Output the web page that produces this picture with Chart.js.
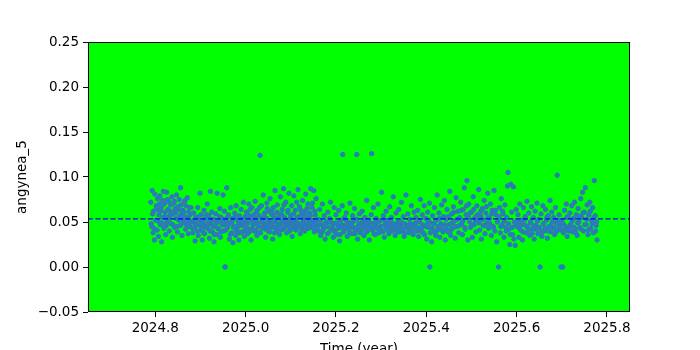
<!DOCTYPE html>
<html>
<head>
<meta charset="utf-8">
<script src="https://cdn.jsdelivr.net/npm/chart.js@4/dist/chart.umd.min.js"></script>
<style>
  body { margin: 0; background: #fff; overflow: hidden; }
  #wrap { width: 700px; height: 350px; }
</style>
</head>
<body>
<div id="wrap"><canvas id="chart"></canvas></div>
<script>
// observation times (decimal year)
const times = [
  2024.790, 2024.792, 2024.793, 2024.795, 2024.796, 2024.798, 2024.799, 2024.801, 2024.802, 2024.804,
  2024.805, 2024.807, 2024.808, 2024.810, 2024.811, 2024.813, 2024.814, 2024.816, 2024.817, 2024.819,
  2024.820, 2024.822, 2024.823, 2024.825, 2024.826, 2024.828, 2024.829, 2024.831, 2024.832, 2024.834,
  2024.835, 2024.837, 2024.838, 2024.840, 2024.841, 2024.843, 2024.844, 2024.846, 2024.847, 2024.849,
  2024.850, 2024.852, 2024.853, 2024.855, 2024.856, 2024.858, 2024.859, 2024.861, 2024.862, 2024.864,
  2024.865, 2024.867, 2024.868, 2024.870, 2024.871, 2024.873, 2024.874, 2024.876, 2024.877, 2024.879,
  2024.881, 2024.883, 2024.885, 2024.887, 2024.888, 2024.890, 2024.892, 2024.894, 2024.895, 2024.897,
  2024.899, 2024.901, 2024.902, 2024.904, 2024.906, 2024.908, 2024.909, 2024.911, 2024.913, 2024.915,
  2024.916, 2024.918, 2024.920, 2024.922, 2024.923, 2024.925, 2024.927, 2024.929, 2024.930, 2024.932,
  2024.934, 2024.936, 2024.937, 2024.939, 2024.941, 2024.943, 2024.944, 2024.946, 2024.948, 2024.950,
  2024.951, 2024.953, 2024.954, 2024.955, 2024.957, 2024.958, 2024.960, 2024.962, 2024.964, 2024.965,
  2024.967, 2024.969, 2024.971, 2024.972, 2024.974, 2024.976, 2024.978, 2024.979, 2024.981, 2024.983,
  2024.985, 2024.986, 2024.988, 2024.990, 2024.992, 2024.993, 2024.995, 2024.997, 2024.999, 2025.000,
  2025.002, 2025.004, 2025.005, 2025.007, 2025.009, 2025.011, 2025.012, 2025.014, 2025.016, 2025.018,
  2025.019, 2025.021, 2025.023, 2025.025, 2025.026, 2025.028, 2025.030, 2025.032, 2025.033, 2025.035,
  2025.037, 2025.039, 2025.040, 2025.042, 2025.044, 2025.046, 2025.047, 2025.049, 2025.051, 2025.053,
  2025.054, 2025.056, 2025.058, 2025.060, 2025.061, 2025.063, 2025.065, 2025.067, 2025.068, 2025.070,
  2025.072, 2025.074, 2025.075, 2025.077, 2025.079, 2025.081, 2025.082, 2025.084, 2025.086, 2025.088,
  2025.089, 2025.091, 2025.093, 2025.095, 2025.096, 2025.098, 2025.100, 2025.102, 2025.103, 2025.105,
  2025.107, 2025.109, 2025.110, 2025.112, 2025.114, 2025.116, 2025.117, 2025.119, 2025.121, 2025.123,
  2025.124, 2025.126, 2025.128, 2025.130, 2025.131, 2025.133, 2025.135, 2025.137, 2025.138, 2025.140,
  2025.142, 2025.144, 2025.145, 2025.147, 2025.149, 2025.151, 2025.152, 2025.154, 2025.156, 2025.158,
  2025.160, 2025.162, 2025.164, 2025.166, 2025.168, 2025.170, 2025.172, 2025.174, 2025.176, 2025.178,
  2025.180, 2025.182, 2025.184, 2025.186, 2025.188, 2025.190, 2025.192, 2025.194, 2025.196, 2025.198,
  2025.200, 2025.202, 2025.204, 2025.206, 2025.208, 2025.210, 2025.212, 2025.214, 2025.215, 2025.217,
  2025.219, 2025.221, 2025.223, 2025.225, 2025.227, 2025.229, 2025.231, 2025.233, 2025.235, 2025.237,
  2025.239, 2025.241, 2025.243, 2025.245, 2025.246, 2025.248, 2025.250, 2025.252, 2025.254, 2025.256,
  2025.258, 2025.260, 2025.262, 2025.264, 2025.266, 2025.268, 2025.270, 2025.272, 2025.274, 2025.276,
  2025.278, 2025.279, 2025.281, 2025.283, 2025.285, 2025.287, 2025.289, 2025.291, 2025.293, 2025.295,
  2025.297, 2025.299, 2025.301, 2025.303, 2025.305, 2025.307, 2025.309, 2025.311, 2025.313, 2025.315,
  2025.317, 2025.319, 2025.321, 2025.323, 2025.325, 2025.327, 2025.329, 2025.331, 2025.333, 2025.335,
  2025.337, 2025.339, 2025.341, 2025.343, 2025.345, 2025.347, 2025.349, 2025.351, 2025.353, 2025.355,
  2025.357, 2025.359, 2025.361, 2025.363, 2025.365, 2025.367, 2025.369, 2025.371, 2025.373, 2025.375,
  2025.377, 2025.379,
  2025.381, 2025.383, 2025.385, 2025.387, 2025.389, 2025.391, 2025.393, 2025.395, 2025.397, 2025.399,
  2025.401, 2025.403, 2025.405, 2025.407, 2025.408, 2025.410, 2025.412, 2025.414, 2025.416, 2025.418,
  2025.420, 2025.422, 2025.424, 2025.426, 2025.428, 2025.430, 2025.432, 2025.434, 2025.436, 2025.438,
  2025.440, 2025.442, 2025.444, 2025.446, 2025.448, 2025.450, 2025.452, 2025.454, 2025.456, 2025.458,
  2025.460, 2025.462, 2025.464, 2025.466, 2025.468, 2025.470, 2025.472, 2025.474, 2025.476, 2025.478,
  2025.480, 2025.482, 2025.484, 2025.486, 2025.488, 2025.490, 2025.492, 2025.494, 2025.496, 2025.498,
  2025.500, 2025.502, 2025.504, 2025.506, 2025.508, 2025.510, 2025.512, 2025.514, 2025.516, 2025.518,
  2025.520, 2025.522, 2025.524, 2025.526, 2025.528, 2025.530, 2025.532, 2025.534, 2025.536, 2025.538,
  2025.540, 2025.542, 2025.544, 2025.546, 2025.548, 2025.550, 2025.552, 2025.554, 2025.556, 2025.558,
  2025.560, 2025.562, 2025.564, 2025.566, 2025.568, 2025.570, 2025.572, 2025.574, 2025.576, 2025.578,
  2025.580, 2025.581, 2025.583, 2025.585, 2025.587, 2025.589, 2025.591, 2025.593, 2025.595, 2025.597,
  2025.599,
  2025.601, 2025.603, 2025.605, 2025.607, 2025.609, 2025.611, 2025.613, 2025.615, 2025.617, 2025.619,
  2025.621, 2025.623, 2025.625, 2025.627, 2025.629, 2025.631, 2025.633, 2025.635, 2025.637, 2025.639,
  2025.641, 2025.643, 2025.645, 2025.647, 2025.649, 2025.651, 2025.652, 2025.654, 2025.656, 2025.658,
  2025.660, 2025.662, 2025.664, 2025.666, 2025.668, 2025.670, 2025.672, 2025.674, 2025.676, 2025.678,
  2025.680, 2025.682, 2025.684, 2025.686, 2025.688, 2025.690, 2025.692, 2025.694, 2025.696, 2025.698,
  2025.700, 2025.702, 2025.704, 2025.706, 2025.708, 2025.710, 2025.712, 2025.714, 2025.716, 2025.718,
  2025.720, 2025.722, 2025.724, 2025.726, 2025.728, 2025.730, 2025.732, 2025.734, 2025.736, 2025.738,
  2025.740, 2025.742, 2025.744, 2025.746, 2025.748, 2025.750, 2025.752, 2025.754, 2025.756, 2025.758,
  2025.760, 2025.762, 2025.764, 2025.766, 2025.768, 2025.770, 2025.772, 2025.774, 2025.776, 2025.778,
  // second pass over the same period (dense core of the cloud)
  2024.791, 2024.794, 2024.797, 2024.803, 2024.806, 2024.809, 2024.812, 2024.815, 2024.818, 2024.821,
  2024.824, 2024.827, 2024.830, 2024.833, 2024.836, 2024.839, 2024.842, 2024.845, 2024.848, 2024.851,
  2024.854, 2024.857, 2024.860, 2024.863, 2024.866, 2024.869, 2024.872, 2024.875, 2024.878, 2024.882,
  2024.886, 2024.889, 2024.893, 2024.896, 2024.900, 2024.903, 2024.907, 2024.910, 2024.914, 2024.917,
  2024.921, 2024.924, 2024.928, 2024.931, 2024.935, 2024.938, 2024.942, 2024.945, 2024.949, 2024.952,
  2024.956, 2024.959, 2024.963, 2024.966, 2024.970, 2024.973, 2024.977, 2024.980, 2024.984, 2024.987,
  2024.991, 2024.994, 2024.998, 2025.001, 2025.003, 2025.006, 2025.008, 2025.010, 2025.013, 2025.015,
  2025.017, 2025.020, 2025.022, 2025.024, 2025.027, 2025.029, 2025.031, 2025.034, 2025.036, 2025.038,
  2025.041, 2025.043, 2025.045, 2025.048, 2025.050, 2025.052, 2025.055, 2025.057, 2025.059, 2025.062,
  2025.064, 2025.066, 2025.069, 2025.071, 2025.073, 2025.076, 2025.078, 2025.080, 2025.083, 2025.085,
  2025.087, 2025.090, 2025.092, 2025.094, 2025.097, 2025.099, 2025.101, 2025.104, 2025.106, 2025.108,
  2025.111, 2025.113, 2025.115, 2025.118, 2025.120, 2025.122, 2025.125, 2025.127, 2025.129, 2025.132,
  2025.134, 2025.136, 2025.139, 2025.141, 2025.143, 2025.146, 2025.148, 2025.150, 2025.153, 2025.155,
  2025.157, 2025.161, 2025.165, 2025.169, 2025.173, 2025.177, 2025.181, 2025.185, 2025.189, 2025.193,
  2025.197, 2025.201, 2025.205, 2025.209, 2025.213, 2025.218, 2025.222, 2025.226, 2025.230, 2025.234,
  2025.238, 2025.242, 2025.247, 2025.251, 2025.255, 2025.259, 2025.263, 2025.267, 2025.271, 2025.275,
  2025.280, 2025.284, 2025.288, 2025.292, 2025.296, 2025.300, 2025.304, 2025.308, 2025.312, 2025.316,
  2025.320, 2025.324, 2025.328, 2025.332, 2025.336, 2025.340, 2025.344, 2025.348, 2025.352, 2025.356,
  2025.360, 2025.364, 2025.368, 2025.372, 2025.376, 2025.380, 2025.384, 2025.388, 2025.392, 2025.396,
  2025.400, 2025.404, 2025.409, 2025.413, 2025.417, 2025.421, 2025.425, 2025.429, 2025.433, 2025.437,
  2025.441, 2025.445, 2025.449, 2025.453, 2025.457, 2025.461, 2025.465, 2025.469, 2025.473, 2025.477,
  2025.481, 2025.485, 2025.489, 2025.493, 2025.497, 2025.501, 2025.505, 2025.509, 2025.513, 2025.517,
  2025.521, 2025.525, 2025.529, 2025.533, 2025.537, 2025.541, 2025.545, 2025.549, 2025.553, 2025.557,
  2025.561, 2025.565, 2025.569, 2025.573, 2025.577, 2025.582, 2025.586, 2025.590, 2025.594, 2025.598,
  2025.602, 2025.606, 2025.610, 2025.614, 2025.618, 2025.622, 2025.626, 2025.630, 2025.634, 2025.638,
  2025.642, 2025.646, 2025.650, 2025.655, 2025.659, 2025.663, 2025.667, 2025.671, 2025.675, 2025.679,
  2025.683, 2025.687, 2025.691, 2025.695, 2025.699, 2025.703, 2025.707, 2025.711, 2025.715, 2025.719,
  2025.723, 2025.727, 2025.731, 2025.735, 2025.739, 2025.743, 2025.747, 2025.751, 2025.755, 2025.759,
  2025.763, 2025.767, 2025.771, 2025.775, 2025.777
];

// angynea_5 values, one per time
const values = [
  0.072, 0.045, 0.085, 0.038, 0.062, 0.030, 0.081, 0.052, 0.068, 0.041,
  0.076, 0.034, 0.058, 0.079, 0.047, 0.066, 0.028, 0.074, 0.055, 0.043,
  0.070, 0.061, 0.036, 0.083, 0.050, 0.064, 0.073, 0.040, 0.057, 0.069,
  0.048, 0.078, 0.033, 0.060, 0.071, 0.044, 0.065, 0.054, 0.080, 0.039,
  0.067, 0.052, 0.075, 0.046, 0.088, 0.059, 0.035, 0.063, 0.049, 0.072,
  0.056, 0.042, 0.068, 0.051, 0.077, 0.037, 0.061, 0.045, 0.058, 0.066,
  0.050, 0.038, 0.060, 0.044, 0.029, 0.055, 0.047, 0.066, 0.035, 0.052,
  0.082, 0.041, 0.058, 0.030, 0.049, 0.063, 0.037, 0.054, 0.045, 0.070,
  0.043, 0.057, 0.032, 0.084, 0.048, 0.061, 0.039, 0.053, 0.028, 0.046,
  0.059, 0.036, 0.082, 0.050, 0.042, 0.065, 0.033, 0.055, 0.047, 0.080,
  0.040, 0.062, 0.000, 0.000, 0.051, 0.088, 0.044, 0.058, 0.031, 0.049,
  0.066, 0.038, 0.054, 0.027, 0.045, 0.060, 0.035, 0.068, 0.043, 0.052,
  0.030, 0.057, 0.046, 0.064, 0.039, 0.050, 0.072, 0.034, 0.056, 0.044,
  0.061, 0.037, 0.049, 0.070, 0.042, 0.055, 0.030, 0.066, 0.047, 0.058,
  0.040, 0.073, 0.052, 0.035, 0.063, 0.045, 0.057, 0.124, 0.038, 0.068,
  0.050, 0.080, 0.043, 0.060, 0.033, 0.054, 0.071, 0.046, 0.062, 0.039,
  0.076, 0.048, 0.058, 0.031, 0.066, 0.044, 0.085, 0.053, 0.040, 0.069,
  0.047, 0.059, 0.036, 0.078, 0.051, 0.064, 0.042, 0.087, 0.055, 0.045,
  0.072, 0.038, 0.061, 0.049, 0.082, 0.044, 0.057, 0.068, 0.034, 0.052,
  0.079, 0.046, 0.063, 0.041, 0.055, 0.086, 0.048, 0.067, 0.037, 0.058,
  0.045, 0.074, 0.051, 0.062, 0.040, 0.081, 0.054, 0.043, 0.070, 0.049,
  0.060, 0.087, 0.044, 0.066, 0.052, 0.085, 0.039, 0.058, 0.076, 0.047,
  0.053, 0.040, 0.064, 0.035, 0.047, 0.070, 0.042, 0.057, 0.031, 0.050,
  0.045, 0.061, 0.038, 0.054, 0.072, 0.043, 0.049, 0.033, 0.066, 0.041,
  0.058, 0.036, 0.047, 0.063, 0.029, 0.052, 0.044, 0.068, 0.125, 0.039,
  0.055, 0.046, 0.060, 0.034, 0.050, 0.042, 0.071, 0.048, 0.037, 0.057,
  0.044, 0.065, 0.040, 0.053, 0.125, 0.031, 0.046, 0.059, 0.038, 0.049,
  0.062, 0.043, 0.035, 0.055, 0.047, 0.074, 0.040, 0.052, 0.030, 0.045,
  0.058, 0.126, 0.041, 0.066, 0.049, 0.036, 0.054, 0.043, 0.070, 0.038,
  0.051, 0.045, 0.083, 0.040, 0.057, 0.033, 0.048, 0.062, 0.042, 0.052,
  0.037, 0.067, 0.044, 0.055, 0.040, 0.078, 0.047, 0.035, 0.060, 0.043,
  0.050, 0.064, 0.039, 0.046, 0.072, 0.041, 0.056, 0.034, 0.048, 0.080,
  0.044, 0.059, 0.038, 0.053, 0.042, 0.068, 0.047, 0.036, 0.061, 0.045,
  0.055, 0.040,
  0.063, 0.034, 0.050, 0.075, 0.043, 0.058, 0.038, 0.068, 0.046, 0.054,
  0.031, 0.061, 0.044, 0.071, 0.000, 0.049, 0.028, 0.057, 0.040, 0.066,
  0.037, 0.052, 0.080, 0.045, 0.060, 0.033, 0.048, 0.069, 0.041, 0.056,
  0.074, 0.030, 0.053, 0.064, 0.039, 0.047, 0.084, 0.035, 0.059, 0.043,
  0.067, 0.051, 0.032, 0.077, 0.045, 0.062, 0.038, 0.055, 0.072, 0.048,
  0.036, 0.064, 0.088, 0.042, 0.058, 0.096, 0.030, 0.070, 0.050, 0.044,
  0.061, 0.033, 0.078, 0.047, 0.055, 0.039, 0.068, 0.052, 0.086, 0.041,
  0.057, 0.031, 0.065, 0.046, 0.074, 0.037, 0.060, 0.049, 0.082, 0.043,
  0.054, 0.070, 0.035, 0.063, 0.045, 0.085, 0.040, 0.058, 0.028, 0.051,
  0.000, 0.066, 0.038, 0.076, 0.047, 0.059, 0.033, 0.069, 0.044, 0.055,
  0.090, 0.105, 0.042, 0.025, 0.092, 0.061, 0.036, 0.089, 0.050, 0.024,
  0.064,
  0.045, 0.058, 0.033, 0.070, 0.041, 0.052, 0.030, 0.066, 0.047, 0.056,
  0.038, 0.073, 0.044, 0.060, 0.035, 0.050, 0.067, 0.042, 0.055, 0.031,
  0.062, 0.046, 0.071, 0.037, 0.053, 0.043, 0.000, 0.059, 0.034, 0.068,
  0.048, 0.040, 0.064, 0.052, 0.032, 0.057, 0.045, 0.074, 0.039, 0.061,
  0.044, 0.055, 0.036, 0.066, 0.049, 0.102, 0.041, 0.058, 0.047, 0.000,
  0.052, 0.000, 0.038, 0.063, 0.045, 0.070, 0.034, 0.056, 0.043, 0.060,
  0.047, 0.068, 0.039, 0.054, 0.072, 0.042, 0.058, 0.035, 0.065, 0.050,
  0.044, 0.076, 0.055, 0.083, 0.040, 0.061, 0.088, 0.047, 0.069, 0.036,
  0.058, 0.072, 0.043, 0.052, 0.066, 0.038, 0.096, 0.057, 0.046, 0.030,
  // second pass
  0.048, 0.059, 0.043, 0.064, 0.051, 0.070, 0.062, 0.049, 0.084, 0.056,
  0.046, 0.075, 0.053, 0.062, 0.058, 0.047, 0.073, 0.060, 0.045, 0.064,
  0.056, 0.069, 0.052, 0.061, 0.074, 0.047, 0.055, 0.066, 0.050, 0.043,
  0.052, 0.047, 0.040, 0.056, 0.046, 0.051, 0.038, 0.044, 0.058, 0.049,
  0.040, 0.053, 0.045, 0.036, 0.050, 0.043, 0.056, 0.039, 0.052, 0.047,
  0.041, 0.055, 0.048, 0.036, 0.050, 0.044, 0.057, 0.040, 0.048, 0.038,
  0.053, 0.046, 0.040, 0.050, 0.044, 0.058, 0.039, 0.064, 0.052, 0.042,
  0.047, 0.055, 0.041, 0.061, 0.049, 0.038, 0.066, 0.044, 0.053, 0.045,
  0.056, 0.048, 0.042, 0.065, 0.040, 0.051, 0.044, 0.062, 0.049, 0.057,
  0.038, 0.050, 0.061, 0.043, 0.055, 0.047, 0.041, 0.058, 0.049, 0.069,
  0.044, 0.052, 0.047, 0.063, 0.040, 0.054, 0.045, 0.050, 0.059, 0.042,
  0.051, 0.072, 0.044, 0.056, 0.048, 0.063, 0.041, 0.055, 0.046, 0.059,
  0.047, 0.065, 0.043, 0.052, 0.057, 0.048, 0.071, 0.044, 0.062, 0.050,
  0.041, 0.046, 0.052, 0.039, 0.044, 0.048, 0.037, 0.050, 0.042, 0.046,
  0.039, 0.049, 0.043, 0.036, 0.047, 0.041, 0.052, 0.044, 0.038, 0.045,
  0.050, 0.037, 0.043, 0.048, 0.041, 0.046, 0.051, 0.039, 0.044, 0.049,
  0.043, 0.037, 0.046, 0.050, 0.041, 0.045, 0.039, 0.052, 0.044, 0.047,
  0.041, 0.049, 0.043, 0.046, 0.039, 0.044, 0.050, 0.042, 0.038, 0.046,
  0.043, 0.048, 0.040, 0.045, 0.049, 0.044, 0.052, 0.040, 0.047, 0.036,
  0.045, 0.050, 0.038, 0.043, 0.048, 0.035, 0.041, 0.054, 0.044, 0.039,
  0.047, 0.042, 0.056, 0.040, 0.049, 0.061, 0.045, 0.053, 0.046, 0.063,
  0.051, 0.044, 0.068, 0.055, 0.060, 0.047, 0.064, 0.052, 0.058, 0.049,
  0.062, 0.053, 0.046, 0.067, 0.055, 0.048, 0.059, 0.044, 0.063, 0.050,
  0.056, 0.045, 0.062, 0.051, 0.040, 0.048, 0.036, 0.044, 0.031, 0.047,
  0.050, 0.043, 0.047, 0.039, 0.053, 0.045, 0.041, 0.049, 0.037, 0.046,
  0.042, 0.051, 0.044, 0.038, 0.048, 0.043, 0.055, 0.040, 0.046, 0.050,
  0.044, 0.039, 0.052, 0.045, 0.041, 0.048, 0.043, 0.055, 0.040, 0.047,
  0.051, 0.044, 0.038, 0.049, 0.056, 0.042, 0.060, 0.047, 0.053, 0.041,
  0.062, 0.048, 0.055, 0.040, 0.050
];

const meanValue = 0.0535;
const xRange = [2024.651, 2025.851];
const yRange = [-0.05, 0.25];
const xTicks = [2024.8, 2025.0, 2025.2, 2025.4, 2025.6, 2025.8];
const yTicks = [-0.05, 0.00, 0.05, 0.10, 0.15, 0.20, 0.25];

Chart.defaults.font.family = "'DejaVu Sans', sans-serif";
Chart.defaults.font.size = 13.5;
Chart.defaults.color = "#000";

const plotFrame = {
    id: "plotFrame",
    beforeDatasetsDraw(chart) {
        const { ctx, chartArea: a } = chart;
        ctx.save();
        ctx.fillStyle = "#00ff00";
        ctx.fillRect(a.left, a.top, a.right - a.left, a.bottom - a.top);
        ctx.restore();
    },
    afterDatasetsDraw(chart) {
        const { ctx, chartArea: a } = chart;
        ctx.save();
        ctx.strokeStyle = "#000";
        ctx.lineWidth = 1;
        ctx.strokeRect(a.left + 0.5, a.top + 0.5, a.right - a.left - 1, a.bottom - a.top - 1);
        ctx.restore();
    },
};

new Chart(document.getElementById("chart"), {
    type: "scatter",
    plugins: [plotFrame],
    data: {
        datasets: [
            {
                type: "line",
                label: "mean",
                data: xRange.map((x) => ({ x: x, y: meanValue })),
                borderColor: "#0000ff",
                borderWidth: 1.3,
                borderDash: [5, 2.5],
                pointRadius: 0,
                order: 0,
            },
            {
                label: "angynea_5",
                data: times.map((t, i) => ({ x: t, y: values[i] })),
                backgroundColor: "#2b7bba",
                borderColor: "#2b7bba",
                borderWidth: 1,
                pointRadius: 2.2,
                order: 1,
            },
        ],
    },
    options: {
        responsive: true,
        maintainAspectRatio: false,
        animation: false,
        layout: { padding: { left: 0, top: 42, right: 70, bottom: 0 } },
        plugins: { legend: { display: false }, tooltip: { enabled: false } },
        scales: {
            x: {
                type: "linear",
                min: xRange[0],
                max: xRange[1],
                afterBuildTicks: (s) => { s.ticks = xTicks.map((v) => ({ value: v })); },
                afterFit: (s) => { s.height = 38; },
                ticks: { padding: 3, maxRotation: 0, callback: (v) => v.toFixed(1) },
                grid: { drawOnChartArea: false, tickLength: 5, tickColor: "#000" },
                border: { display: false },
                title: { display: true, text: "Time (year)", padding: { top: 0, bottom: -8 } },
            },
            y: {
                min: yRange[0],
                max: yRange[1],
                afterBuildTicks: (s) => { s.ticks = yTicks.map((v) => ({ value: v })); },
                afterFit: (s) => { s.width = 88; },
                ticks: { padding: 4, callback: (v) => v.toFixed(2).replace("-", "\u2212") },
                grid: { drawOnChartArea: false, tickLength: 5, tickColor: "#000" },
                border: { display: false },
                title: { display: true, text: "angynea_5", padding: { top: 14, bottom: 0 } },
            },
        },
    },
});
</script>
</body>
</html>
